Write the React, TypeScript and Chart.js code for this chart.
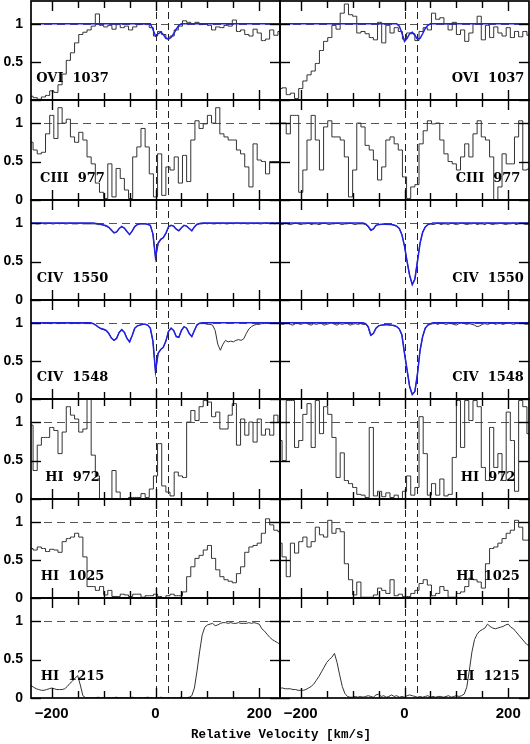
import React, { useEffect, useRef } from "react";
import { Chart, registerables } from "chart.js";

Chart.register(...registerables);

// ---------- grids (km/s) ----------
const VEL_FUSE = Array.from({ length: 61 }, (_, i) => -240 + 8 * i);
const VEL_FINE = Array.from({ length: 97 }, (_, i) => -240 + 5 * i);
const VEL_FIT = Array.from({ length: 46 }, (_, i) => -130 + 5 * i);

const V_MIN = -240;
const V_MAX = 240;
const F_MIN = 0;
const F_MAX = 1.3;
const X_TICKS = [-200, -150, -100, -50, 0, 50, 100, 150, 200];
const X_LABEL_TICKS = [-200, 0, 200];
const Y_TICKS = [0, 0.5, 1];
const COMPONENT_VEL = [0, 24];
const CONTINUUM = 1;
const LABEL_VEL = [-160, 161];
const LABEL_FLUX = 0.28;
const X_TITLE = "Relative Velocity [km/s]";

const PANEL_LABELS = ["OVI  1037", "CIII  977", "CIV  1550", "CIV  1548", "HI  972", "HI  1025", "HI  1215"];

// ---------- data ----------
const OVI_1037_L = [0.05,0.03,0.01,0.04,0.06,0.12,0.1,0.2,0.34,0.52, 0.62,0.75,0.86,0.89,0.92,0.97,1.13,0.98,0.96,0.98, 0.93,0.99,0.95,0.97,0.92,0.96,0.99,1.0,0.99,0.95, 0.84,0.9,0.86,0.81,0.84,0.92,0.97,1.04,1.02,1.0, 1.02,0.99,1.0,0.98,0.92,0.96,0.95,0.98,0.97,1.05, 0.9,0.92,0.86,0.84,0.93,0.88,0.78,0.8,0.92,0.85, 0.9];
const OVI_1037_R = [0.15,0.16,0.07,0.09,0.02,0.15,0.25,0.33,0.38,0.48, 0.65,0.77,0.82,0.98,0.93,1.14,1.26,1.12,1.1,0.88, 0.9,0.87,0.82,0.79,1.02,0.75,0.98,0.88,0.95,0.9, 0.8,0.88,0.87,0.78,0.9,0.95,0.92,1.14,1.06,1.08, 1.0,0.92,1.02,0.86,0.92,0.77,0.88,1.0,1.1,0.79, 0.98,0.82,0.96,0.88,0.84,0.95,0.82,0.9,0.83,0.9, 0.85];
const OVI_FIT_L = [1,1,1,1,1,1,1,1,1,1, 1,1,1,1,1,1,1,1,1,1, 1,1,1,1, 1.0,0.93,0.84,0.87,0.89,0.86,0.81,0.8,0.82,0.87,0.93,0.98,1.0, 1,1,1,1,1,1,1,1,1];
const OVI_FIT_R = [1,1,1,1,1,1,1,1,1,1, 1,1,1,1,1,1,1,1,1,1, 1,1,1,1, 0.97,0.88,0.77,0.81,0.87,0.89,0.85,0.8,0.81,0.87,0.94,0.98,1.0, 1,1,1,1,1,1,1,1,1];

const CIII_977_L = [0.75,0.65,0.6,0.62,0.86,1.1,0.8,1.2,1.0,1.05, 0.82,0.75,0.88,0.78,0.56,0.47,0.22,0.1,0.02,0.47, 0.04,0.41,0.28,0.13,0.02,0.56,0.69,0.93,0.69,0.34, 0.04,0.6,0.06,0.43,0.39,0.56,0.22,0.58,0.24,0.78, 1.03,0.93,0.99,1.1,1.0,1.2,0.86,0.82,0.78,0.78, 0.65,0.6,0.43,0.17,0.73,0.52,0.5,0.34,0.5,0.5, 0.5];
const CIII_977_R = [1.0,1.0,0.86,1.1,1.1,0.1,0.39,0.78,1.1,0.78, 0.39,0.95,1.03,0.82,0.82,0.78,0.56,0.04,0.39,1.0, 0.95,0.71,0.65,0.52,0.26,0.43,0.78,0.82,0.73,0.65, 0.3,0.02,0.17,0.2,0.73,0.9,1.03,0.99,1.0,0.78, 0.6,0.5,0.47,0.39,0.56,0.73,0.56,0.86,1.03,0.82, 0.78,0.56,0.0,0.17,0.6,0.47,0.47,0.82,1.03,0.39, 0.4];

const CIV_1550_L = [0.99,1.0,0.99,0.99,1.0,0.99,0.99,1.0,0.99,0.99, 1.0,0.99,1.0,0.99,0.99,1.0,0.99,0.99,0.99,1.0, 0.99,0.99,0.99,0.99,0.99,0.99, 0.98,0.98,0.97,0.96,0.94,0.9,0.87,0.88,0.93,0.96, 0.93,0.89,0.85,0.9,0.96,0.98,0.99,0.99,0.99,0.98, 0.97,0.86,0.56,0.73,0.78,0.81,0.86,0.95,0.97,0.96, 0.92,0.9,0.94,0.97,0.96,0.93,0.9,0.95,0.98,0.99, 0.99, 1.0,0.99,1.0,0.99,0.99,1.0,0.99,1.0,0.99,0.99, 1.0,0.99,1.0,1.0,0.99,1.0,0.99,0.99,1.0,0.99, 1.0,0.99,0.99,1.0,1.0,0.99,1.0,0.99,1.0,1.0];
const CIV_1550_FIT_L = [1.0,1.0,1.0,0.995,0.99,0.985,0.975,0.965,0.945,0.91, 0.875,0.885,0.93,0.955,0.935,0.89,0.85,0.895,0.955,0.98, 0.99,0.99,0.99,0.985,0.97,0.86,0.55,0.74,0.79,0.81, 0.87,0.95,0.97,0.96,0.92,0.9,0.94,0.97,0.96,0.93, 0.9,0.95,0.985,0.995,1.0,1.0];
const CIV_1550_R = [0.99,0.98,1.0,0.99,0.98,0.99,1.0,0.99,0.98,0.99, 0.99,1.0,0.98,0.99,0.99,0.98,0.99,1.0,0.99,0.98, 0.99,0.99,1.0,0.99,0.98,0.99,0.99,1.0,0.99,0.98, 0.99,0.99, 0.99,0.98,0.95,0.9,0.92,0.97,0.98,0.98,0.99,0.98, 0.98,0.98,0.97,0.96,0.93,0.85,0.7,0.5,0.31,0.2, 0.28,0.52,0.74,0.88,0.95,0.98,0.99,0.98, 0.99,1.0,0.98,0.99,0.99,0.98,1.0,0.99,0.98,0.99, 1.0,0.99,0.98,0.99,0.99,1.0,0.98,0.99,0.99,0.98, 1.0,0.99,0.98,0.99,0.99,1.0,0.99,0.98,0.99,0.99, 1.0,0.98,0.99,1.0,0.99,0.98,0.99];
const CIV_1550_FIT_R = [1,1,1,1,1,1,1,1,1,1, 1.0,0.99,0.96,0.91,0.925,0.97,0.98,0.985,0.985,0.985, 0.985,0.98,0.975,0.96,0.93,0.85,0.7,0.5,0.32,0.2, 0.27,0.5,0.74,0.88,0.95,0.98,0.99,1.0, 1,1,1,1,1,1,1,1];

const CIV_1548_L = [0.99,1.0,0.99,0.99,1.0,0.99,1.0,0.99,0.99,1.0, 0.99,0.99,1.0,0.99,1.0,0.99,0.99,1.0,0.99,0.99, 1.0,0.99,0.99, 0.99,0.99,0.97,0.94,0.92,0.91,0.9,0.86,0.8,0.77, 0.8,0.88,0.91,0.88,0.8,0.75,0.83,0.93,0.96,0.97, 0.98,0.98,0.97,0.93,0.76,0.36,0.6,0.65,0.68,0.76, 0.89,0.93,0.9,0.82,0.81,0.9,0.95,0.93,0.86,0.82, 0.9,0.97,0.99,0.99, 0.99,0.98,0.98,0.97,0.9,0.72,0.64,0.72,0.77,0.75, 0.76,0.75,0.77,0.78,0.77,0.79,0.86,0.92,0.95,0.97, 0.98,0.98,0.99,0.99,1.0,0.99,1.0,1.0,0.99,1.0];
const CIV_1548_FIT_L = [1.0,1.0,0.99,0.97,0.945,0.925,0.915,0.9,0.86,0.8, 0.77,0.795,0.875,0.91,0.875,0.795,0.75,0.835,0.93,0.96, 0.97,0.98,0.98,0.97,0.93,0.76,0.36,0.6,0.65,0.68, 0.76,0.885,0.93,0.9,0.82,0.81,0.9,0.95,0.93,0.86, 0.82,0.9,0.975,0.995,1.0,1.0];
const CIV_1548_R = [0.99,0.98,0.99,1.0,0.98,0.97,0.99,0.99,0.98,0.99, 1.0,0.98,0.97,0.99,0.98,0.99,0.99,0.97,0.98,0.99, 1.0,0.98,0.97,0.99,0.98,0.99,0.99,0.97,0.98,0.99, 0.98,0.99, 0.98,0.98,0.94,0.83,0.86,0.93,0.96,0.97,0.97,0.98, 0.97,0.97,0.96,0.95,0.92,0.84,0.6,0.38,0.16,0.06, 0.1,0.33,0.64,0.82,0.93,0.97,0.98,0.99, 0.99,0.98,1.0,0.99,0.98,0.99,0.99,0.98,0.97,0.99, 1.0,0.99,0.98,0.99,0.98,0.97,0.95,0.96,0.98,0.99, 0.98,0.99,1.0,0.98,0.99,0.99,0.98,0.99,1.0,0.99, 0.98,0.99,0.99,1.0,0.99,0.98,0.99];
const CIV_1548_FIT_R = [1,1,1,1,1,1,1,1,1,1, 1.0,0.99,0.95,0.84,0.86,0.93,0.96,0.97,0.975,0.975, 0.975,0.97,0.965,0.95,0.92,0.84,0.6,0.38,0.16,0.06, 0.1,0.33,0.64,0.82,0.93,0.97,0.99,1.0, 1,1,1,1,1,1,1,1];

const HI_972_L = [0.96,0.37,0.7,0.8,0.8,0.93,0.89,0.59,0.87,1.2, 1.09,1.04,0.87,0.91,1.3,0.57,0.3,0,0,0, 0.37,0.09,0,0,0.02,0.02,0.02,0.07,0.02,0.13, 0.3,0.72,0.17,0.09,0.04,0.35,0.3,0.28,1.0,1.15, 1.02,1.2,1.28,1.26,1.07,1.13,0.91,0.91,1.09,1.24, 0.7,1.04,0.83,1.0,0.74,1.04,0.83,0.91,0.83,1.09, 1.0];
const HI_972_R = [0.76,0.5,1.28,1.28,0.67,0.76,1.1,1.24,0.67,1.28, 0.85,1.2,1.1,0.8,0.28,0.6,0.24,0.2,0.15,0.06, 0.05,0.02,0.93,0.04,0.1,0.03,0.08,0.02,0.05,0.0, 0.1,0.3,0.05,0.15,1.07,0.59,0.05,0.2,0.05,0.26, 0.04,0.06,0.54,1.28,0.67,1.28,1.02,1.28,1.2,0.41, 0.24,0.93,0.41,0.59,0.24,1.13,0.76,0.1,1.28,1.2, 0.85];

const HI_1025_L = [0.65,0.63,0.67,0.65,0.61,0.64,0.63,0.6,0.74,0.78, 0.8,0.85,0.8,0.54,0.15,0.15,0.1,0.15,0.04,0.1, 0.02,0.02,0.05,0.04,0.02,0.05,0.05,0.01,0.03,0.03, 0.05,0.02,0.0,0.03,0.05,0.03,0.03,0.08,0.28,0.41, 0.52,0.56,0.63,0.69,0.52,0.37,0.28,0.24,0.22,0.2, 0.32,0.41,0.6,0.67,0.69,0.72,0.85,1.04,0.96,0.89, 0.87];
const HI_1025_R = [0.72,0.54,0.28,0.72,0.59,0.74,0.8,0.67,0.74,0.93, 0.83,0.8,1.02,0.85,0.91,0.87,0.45,0.24,0.04,0.21, 0.01,0.01,0.01,0.04,0.13,0.1,0.06,0.24,0.03,0.05, 0.02,0.02,0.06,0.1,0.19,0.24,0.17,0.03,0.06,0.15, 0.1,0.01,0.01,0.06,0.08,0.15,0.26,0.24,0.21,0.13, 0.45,0.65,0.67,0.72,0.78,0.85,0.89,1.02,0.93,0.76, 0.76];

const HI_1215_L = [0.16,0.14,0.12,0.11,0.1,0.1,0.11,0.12,0.13,0.12, 0.11,0.11,0.11,0.12,0.15,0.19,0.22,0.26,0.29,0.17, 0.03,0.005, 0.0,0.005,0.0,0.005,0.01,0.0,0.005,0.0,0.005,0.0, 0.005,0.01,0.0,0.005,0.0,0.005,0.0,0.01,0.005,0.0, 0.005,0.0,0.005,0.01,0.005,0.0,0.005,0.0,0.01,0.005, 0.0,0.005,0.0,0.005,0.0,0.005,0.01,0.0,0.005,0.01, 0.03,0.13,0.35,0.6,0.82, 0.92,0.95,0.96,0.97,0.94, 0.95,0.97,0.98,0.98,0.97, 0.98,0.97,0.97,0.98,0.97, 0.97,0.97,0.98,0.97,0.98, 0.97,0.96,0.9,0.87,0.83, 0.79,0.76,0.74,0.72,0.7];
const HI_1215_R = [0.13,0.13,0.12,0.12,0.12,0.11,0.11,0.1,0.1,0.1, 0.11,0.13,0.15,0.18,0.23,0.28,0.34,0.4,0.46,0.5, 0.53,0.58,0.46,0.3,0.15,0.06,0.02,0.01, 0.01,0.02,0.01,0.02,0.01, 0.02,0.03,0.02,0.01,0.04, 0.05,0.02,0.03,0.01,0.02, 0.04,0.02,0.03,0.01,0.02, 0.01,0.03,0.04,0.03,0.02, 0.01,0.02,0.01,0.02,0.03, 0.01,0.02,0.01,0.02,0.02, 0.01,0.02,0.03,0.01,0.02, 0.03,0.02,0.03,0.05, 0.14,0.36,0.6,0.76,0.83,0.87,0.89,0.91,0.96,0.93, 0.91,0.9,0.91,0.92,0.93,0.95,0.96,0.92,0.9,0.86, 0.82,0.78,0.74,0.7,0.68];

type RowSpec = { vel: number[]; data: number[][]; fit?: number[][]; stepped: boolean };
const ROWS: RowSpec[] = [
  { vel: VEL_FUSE, data: [OVI_1037_L, OVI_1037_R], fit: [OVI_FIT_L, OVI_FIT_R], stepped: true },
  { vel: VEL_FUSE, data: [CIII_977_L, CIII_977_R], stepped: true },
  { vel: VEL_FINE, data: [CIV_1550_L, CIV_1550_R], fit: [CIV_1550_FIT_L, CIV_1550_FIT_R], stepped: false },
  { vel: VEL_FINE, data: [CIV_1548_L, CIV_1548_R], fit: [CIV_1548_FIT_L, CIV_1548_FIT_R], stepped: false },
  { vel: VEL_FUSE, data: [HI_972_L, HI_972_R], stepped: true },
  { vel: VEL_FUSE, data: [HI_1025_L, HI_1025_R], stepped: true },
  { vel: VEL_FINE, data: [HI_1215_L, HI_1215_R], stepped: false },
];

// ---------- layout (px) ----------
const COL_LEFT = [31, 280];
const PANEL_W = 249;
const ROW_TOPS = [1, 100, 200, 300, 399, 499, 598];
const PLOT_BOTTOM = 698;
const Y_AXIS_W = 31;
const X_AXIS_H = 46;

const TICK_FONT = '"Liberation Sans", Arial, sans-serif';
const LABEL_FONT = 'bold 13px "DejaVu Serif", serif';

function fmtV(v: number) {
  return v < 0 ? "\u2212" + Math.abs(v) : String(v);
}

function makeDecor(col: number, label: string) {
  return {
    id: "decor",
    beforeDatasetsDraw(chart: any) {
      const { ctx, chartArea: a, scales } = chart;
      const x = scales.x, y = scales.y;
      ctx.save();
      ctx.beginPath();
      ctx.rect(a.left, a.top, a.right - a.left, a.bottom - a.top);
      ctx.clip();
      ctx.lineWidth = 1;
      ctx.strokeStyle = "#555";
      ctx.setLineDash([8, 5]);
      const py = Math.round(y.getPixelForValue(CONTINUUM)) + 0.5;
      ctx.beginPath();
      ctx.moveTo(a.left, py);
      ctx.lineTo(a.right, py);
      ctx.stroke();
      ctx.strokeStyle = "#222";
      ctx.setLineDash([7, 4]);
      for (const v of COMPONENT_VEL) {
        const px = Math.round(x.getPixelForValue(v)) + 0.5;
        ctx.beginPath();
        ctx.moveTo(px, a.top);
        ctx.lineTo(px, a.bottom);
        ctx.stroke();
      }
      ctx.restore();
    },
    afterDraw(chart: any) {
      const { ctx, chartArea: a, scales } = chart;
      const x = scales.x, y = scales.y;
      ctx.save();
      ctx.setLineDash([]);
      ctx.strokeStyle = "#000";
      ctx.lineWidth = 1.4;
      for (const v of X_TICKS) {
        const px = Math.round(x.getPixelForValue(v)) + 0.5;
        const len = X_LABEL_TICKS.includes(v) ? 10 : 7;
        ctx.beginPath();
        ctx.moveTo(px, a.bottom);
        ctx.lineTo(px, a.bottom - len);
        ctx.stroke();
        ctx.beginPath();
        ctx.moveTo(px, a.top);
        ctx.lineTo(px, a.top + len);
        ctx.stroke();
      }
      for (const f of Y_TICKS) {
        const py = Math.round(y.getPixelForValue(f)) + 0.5;
        ctx.beginPath();
        ctx.moveTo(a.left, py);
        ctx.lineTo(a.left + 10, py);
        ctx.stroke();
        ctx.beginPath();
        ctx.moveTo(a.right, py);
        ctx.lineTo(a.right - 10, py);
        ctx.stroke();
      }
      ctx.lineWidth = 1.7;
      ctx.strokeRect(a.left, a.top, a.right - a.left, a.bottom - a.top);
      ctx.fillStyle = "#000";
      ctx.font = LABEL_FONT;
      ctx.textAlign = "center";
      ctx.textBaseline = "middle";
      ctx.fillText(label, x.getPixelForValue(LABEL_VEL[col]), y.getPixelForValue(LABEL_FLUX));
      ctx.restore();
    },
  };
}

function Panel({ row, col }: { row: number; col: number }) {
  const ref = useRef<HTMLCanvasElement>(null);
  const spec = ROWS[row];
  const isLeft = col === 0;
  const isBottom = row === ROWS.length - 1;
  const top = ROW_TOPS[row];
  const bottom = row + 1 < ROW_TOPS.length ? ROW_TOPS[row + 1] : PLOT_BOTTOM;
  const h = bottom - top;
  const padT = row === 0 ? top : 6;
  const padB = isBottom ? 0 : 9;
  const padL = isLeft ? 0 : 3;
  const padR = 3;
  const width = (isLeft ? Y_AXIS_W : padL) + PANEL_W + padR;
  const height = padT + h + (isBottom ? X_AXIS_H : padB);
  const canvasLeft = isLeft ? COL_LEFT[0] - Y_AXIS_W : COL_LEFT[1] - padL;
  const canvasTop = top - padT;

  useEffect(() => {
    const canvas = ref.current;
    if (!canvas) return;
    const datasets: any[] = [];
    if (spec.fit) {
      const fit = spec.fit[col];
      datasets.push({
        data: [{ x: V_MIN, y: CONTINUUM }, ...VEL_FIT.map((v, i) => ({ x: v, y: fit[i] })), { x: V_MAX, y: CONTINUUM }],
        borderColor: "#1f1fe6",
        borderWidth: 1.5,
        pointRadius: 0,
        tension: 0,
        fill: false,
      });
    }
    const vals = spec.data[col];
    datasets.push({
      data: spec.vel.map((v, i) => ({ x: v, y: vals[i] })),
      borderColor: "#333",
      borderWidth: 1,
      pointRadius: 0,
      tension: 0,
      stepped: spec.stepped ? "middle" : false,
      fill: false,
    });

    const chart = new Chart(canvas, {
      type: "line",
      data: { datasets },
      options: {
        responsive: false,
        maintainAspectRatio: false,
        animation: false,
        devicePixelRatio: 1,
        events: [],
        layout: { autoPadding: false, padding: { left: padL, right: padR, top: padT, bottom: isBottom ? 0 : padB } },
        plugins: { legend: { display: false }, tooltip: { enabled: false } },
        scales: {
          x: {
            type: "linear",
            min: V_MIN,
            max: V_MAX,
            display: isBottom,
            position: "bottom",
            grid: { display: false, drawTicks: false },
            border: { display: false },
            ticks: {
              color: "#000",
              font: { family: TICK_FONT, size: 15, weight: "bold" },
              padding: 7,
              maxRotation: 0,
              autoSkip: false,
              callback: (v: any) => fmtV(Number(v)),
            },
            afterBuildTicks: (s: any) => {
              s.ticks = X_LABEL_TICKS.map((value) => ({ value }));
            },
            afterFit: (s: any) => {
              s.height = isBottom ? X_AXIS_H : 0;
              s.paddingLeft = 0;
              s.paddingRight = 0;
            },
          },
          y: {
            type: "linear",
            min: F_MIN,
            max: F_MAX,
            display: isLeft,
            position: "left",
            grid: { display: false, drawTicks: false },
            border: { display: false },
            ticks: {
              color: "#000",
              font: { family: TICK_FONT, size: 14, weight: "bold" },
              padding: 8,
              callback: (v: any) => String(Number(v)),
            },
            afterBuildTicks: (s: any) => {
              s.ticks = Y_TICKS.map((value) => ({ value }));
            },
            afterFit: (s: any) => {
              s.width = isLeft ? Y_AXIS_W : 0;
              s.paddingTop = 0;
              s.paddingBottom = 0;
            },
          },
        },
      } as any,
      plugins: [makeDecor(col, PANEL_LABELS[row])],
    } as any);
    return () => chart.destroy();
  }, []);

  return (
    <canvas
      ref={ref}
      width={width}
      height={height}
      style={{ position: "absolute", left: canvasLeft, top: canvasTop, width, height }}
    />
  );
}

export default function App() {
  const panels: React.ReactNode[] = [];
  for (let r = 0; r < ROWS.length; r++) {
    for (let c = 0; c < 2; c++) {
      panels.push(<Panel key={r + "-" + c} row={r} col={c} />);
    }
  }
  return (
    <div
      style={{
        position: "absolute",
        left: 0,
        top: 0,
        width: 530,
        height: 744,
        overflow: "hidden",
        background: "#fff",
      }}
    >
      {panels}
      <div
        style={{
          position: "absolute",
          left: 281,
          top: 728,
          transform: "translateX(-50%)",
          whiteSpace: "nowrap",
          font: 'bold 12.5px "Liberation Mono", monospace',
          lineHeight: "14px",
          color: "#000",
        }}
      >
        {X_TITLE}
      </div>
    </div>
  );
}
